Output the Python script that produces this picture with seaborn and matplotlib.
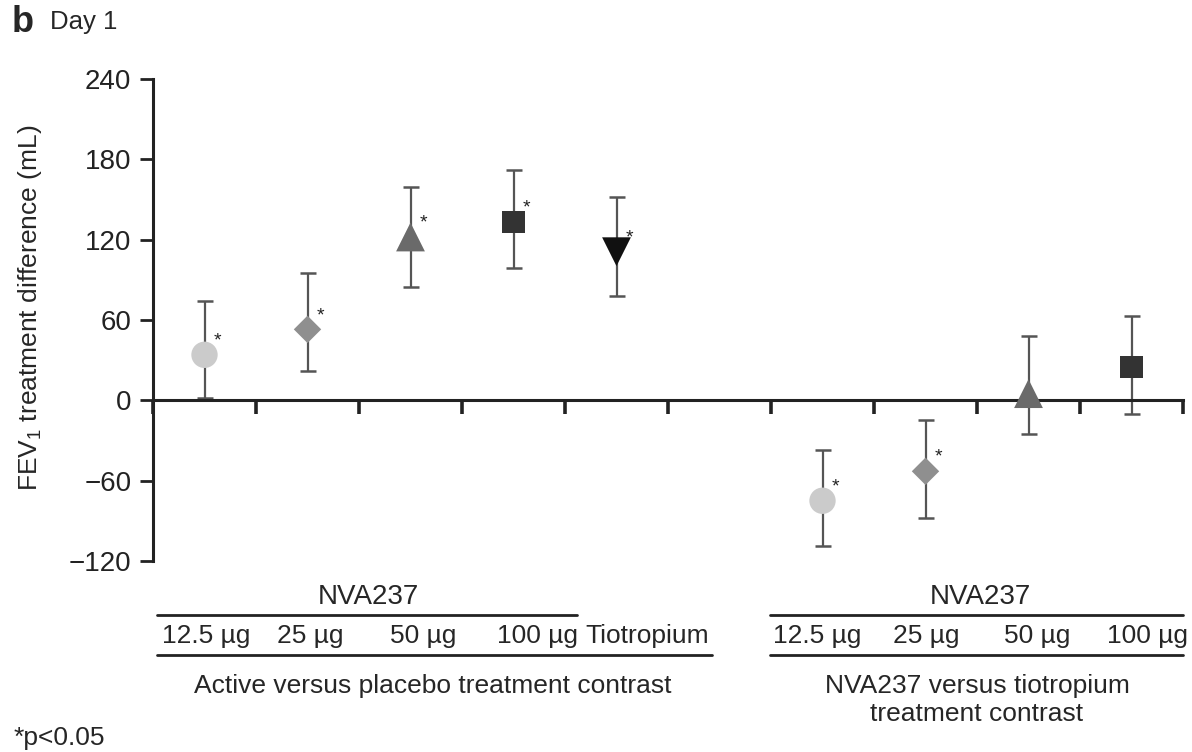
import numpy as np
import pandas as pd
import matplotlib
matplotlib.use("Agg")
import matplotlib.pyplot as plt
import matplotlib.transforms as mtransforms
from matplotlib.lines import Line2D
import seaborn as sns

# values (mL)
left_doses = ["12.5 µg", "25 µg", "50 µg", "100 µg", "Tiotropium"]
left_est = [34, 53, 122, 133, 111]
left_lo = [2, 22, 85, 99, 78]
left_hi = [74, 95, 159, 172, 152]
left_sig = [True, True, True, True, True]

right_doses = ["12.5 µg", "25 µg", "50 µg", "100 µg"]
right_est = [-75, -53, 5, 25]
right_lo = [-109, -88, -25, -10]
right_hi = [-37, -15, 48, 63]
right_sig = [True, True, False, False]

yticks = [-120, -60, 0, 60, 120, 180, 240]

sns.set_style("ticks")
plt.rcParams['font.family'] = ['Liberation Sans', 'DejaVu Sans']

# one table, positions from category index (one empty slot between the groups)
rows = []
for i, d in enumerate(left_doses):
    rows.append(dict(pos=i + 0.5, dose=d, est=left_est[i], lo=left_lo[i], hi=left_hi[i], sig=left_sig[i]))
for i, d in enumerate(right_doses):
    rows.append(dict(pos=len(left_doses) + 1 + i + 0.5, dose=d, est=right_est[i], lo=right_lo[i], hi=right_hi[i], sig=right_sig[i]))
df = pd.DataFrame(rows)

palette = {"12.5 µg": "#cbcbcb", "25 µg": "#8f8f8f", "50 µg": "#6a6a6a", "100 µg": "#333333", "Tiotropium": "#111111"}
markers = {"12.5 µg": "o", "25 µg": "D", "50 µg": "^", "100 µg": "s", "Tiotropium": "v"}
sizes = {"12.5 µg": 360, "25 µg": 195, "50 µg": 430, "100 µg": 260, "Tiotropium": 430}

fig = plt.figure(figsize=(11.92, 7.52), dpi=100)
ax = fig.add_axes([153 / 1192, 1 - 561 / 752, (1183 - 153) / 1192, (561 - 79) / 752])

ax.errorbar(df["pos"], df["est"], yerr=[df["est"] - df["lo"], df["hi"] - df["est"]],
            fmt="none", ecolor="#555555", elinewidth=1.6, capsize=6, capthick=1.8, zorder=2)

sns.scatterplot(data=df, x="pos", y="est", hue="dose", style="dose", size="dose",
                palette=palette, markers=markers, sizes=sizes, linewidth=0,
                legend=False, ax=ax, zorder=3)

for _, r in df[df["sig"]].iterrows():
    ax.annotate("*", (r["pos"], r["est"]), xytext=(9, 10), textcoords="offset points",
                fontsize=14, ha="center", va="center", color="#222222")

ax.set_xlim(0, 10)
ax.set_ylim(-120, 240)
ax.set_yticks(yticks)
ax.set_xticks(np.arange(0, 11))
ax.set_xticklabels([])
ax.spines["top"].set_visible(False)
ax.spines["right"].set_visible(False)
ax.spines["bottom"].set_position(("data", 0))
for s in ["left", "bottom"]:
    ax.spines[s].set_linewidth(2.2)
    ax.spines[s].set_color("#222222")
ax.tick_params(axis="y", direction="out", length=9.5, width=2.0, labelsize=20, colors="#222222", pad=6)
ax.tick_params(axis="x", direction="out", length=10, width=2.6, colors="#222222")
ax.set_xlabel("")
ax.set_ylabel(r"FEV$_\mathregular{1}$ treatment difference (mL)", fontsize=19)
ax.yaxis.set_label_coords(-0.106, 0.525)

# group annotations below the axis
tr = mtransforms.blended_transform_factory(ax.transData, fig.transFigure)
lab_fs = 19
left_lab_x = [0.52, 1.53, 2.62, 3.73, 4.8]
right_lab_x = [6.45, 7.51, 8.58, 9.66]
for x, t in zip(left_lab_x, left_doses):
    fig.text(x, 1 - 636 / 752, t, transform=tr, ha="center", va="center", fontsize=lab_fs)
for x, t in zip(right_lab_x, right_doses):
    fig.text(x, 1 - 636 / 752, t, transform=tr, ha="center", va="center", fontsize=lab_fs)

fig.text(2.09, 1 - 597 / 752, "NVA237", transform=tr, ha="center", va="center", fontsize=lab_fs + 1)
fig.text(8.03, 1 - 597 / 752, "NVA237", transform=tr, ha="center", va="center", fontsize=lab_fs + 1)
fig.add_artist(Line2D([0.04, 4.12], [1 - 615 / 752] * 2, transform=tr, color="#222222", lw=2))
fig.add_artist(Line2D([0.04, 5.43], [1 - 655 / 752] * 2, transform=tr, color="#222222", lw=2))
fig.add_artist(Line2D([5.99, 10.0], [1 - 615 / 752] * 2, transform=tr, color="#222222", lw=2))
fig.add_artist(Line2D([5.99, 10.0], [1 - 655 / 752] * 2, transform=tr, color="#222222", lw=2))
fig.text(2.72, 1 - 686 / 752, "Active versus placebo treatment contrast", transform=tr,
         ha="center", va="center", fontsize=lab_fs)
fig.text(8.0, 1 - 700 / 752, "NVA237 versus tiotropium\ntreatment contrast", transform=tr,
         ha="center", va="center", fontsize=lab_fs, linespacing=1.25)

fig.text(14 / 1192, 1 - 738 / 752, "*p<0.05", ha="left", va="center", fontsize=19)
fig.text(12 / 1192, 1 - 22 / 752, "b", ha="left", va="center", fontsize=26, fontweight="bold")
fig.text(50 / 1192, 1 - 22 / 752, "Day 1", ha="left", va="center", fontsize=18.5)

fig.savefig("out.png", dpi=100, facecolor="white")
